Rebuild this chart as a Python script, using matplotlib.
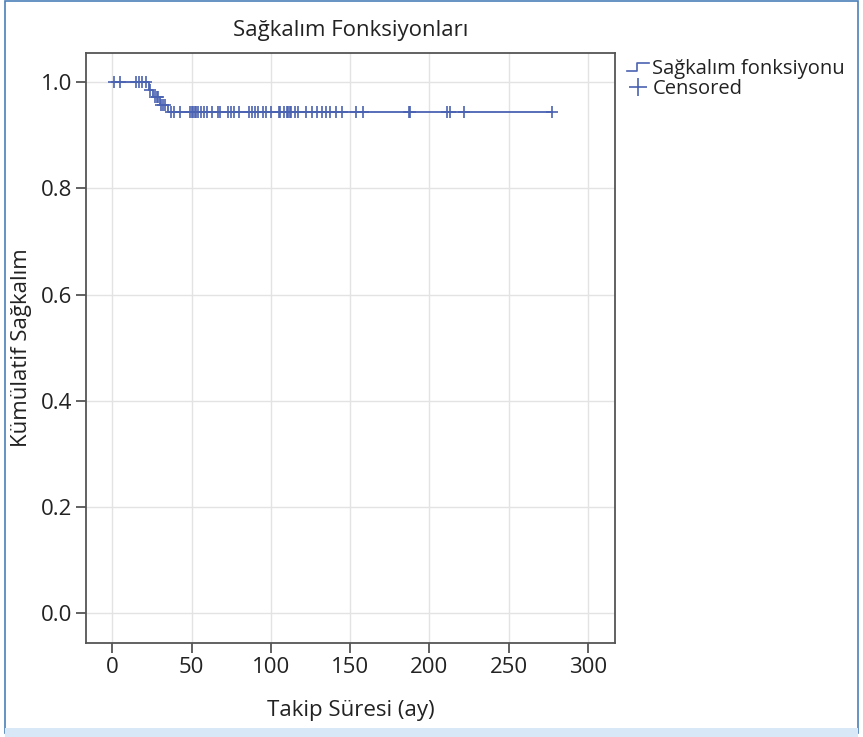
import matplotlib
matplotlib.use("Agg")
import matplotlib.pyplot as plt
from matplotlib.lines import Line2D
from matplotlib.patches import Rectangle
from matplotlib.legend_handler import HandlerBase
import numpy as np

plt.rcParams['font.family'] = ['Open Sans', 'DejaVu Sans']

# survival step function (time in months, cumulative survival)
step_t = [0, 23, 26, 30, 35, 277]
step_s = [1.0, 0.986, 0.972, 0.958, 0.944, 0.944]

# censored observations
censor_t = [1, 5, 15, 17, 19, 21, 24, 27, 28, 29, 31, 32, 33,
            37, 39, 43, 49, 50, 51, 52, 53, 54, 56, 58, 60, 63, 67, 68,
            73, 75, 77, 80, 86, 88, 90, 92, 95, 97, 100, 105, 106, 108,
            110, 111, 112, 113, 115, 117, 122, 126, 129, 132, 135, 137,
            141, 145, 154, 158, 187, 188, 211, 213, 222, 277]

title = "Sağkalım Fonksiyonları"
xlabel = "Takip Süresi (ay)"
ylabel = "Kümülatif Sağkalım"
legend_labels = ["Sağkalım fonksiyonu", "Censored"]

color = "#4a62b2"


class StepHandler(HandlerBase):
    def create_artists(self, legend, orig_handle, xdescent, ydescent,
                       width, height, fontsize, trans):
        xs = [0, width * 0.45, width * 0.45, width]
        ys = [height * 0.2, height * 0.2, height * 0.8, height * 0.8]
        ln = Line2D(xs, ys, color=color, lw=1.2, transform=trans)
        return [ln]


def censor_y(t):
    idx = np.searchsorted(step_t, t, side="right") - 1
    return step_s[idx]


fig = plt.figure(figsize=(8.63, 7.37), dpi=100)
ax = fig.add_axes([0.0997, 0.1275, 0.613, 0.8005])

ax.step(step_t, step_s, where="post", color=color, lw=1.3, zorder=3)
cy = [censor_y(t) for t in censor_t]
ax.plot(censor_t, cy, linestyle="none", marker="+", markersize=8,
        markeredgewidth=1.2, color=color, zorder=4)

ax.set_xlim(-16.5, 317)
ax.set_ylim(-0.056, 1.055)
ax.set_xticks([0, 50, 100, 150, 200, 250, 300])
ax.set_yticks([0.0, 0.2, 0.4, 0.6, 0.8, 1.0])
ax.yaxis.set_major_formatter(matplotlib.ticker.FormatStrFormatter("%.1f"))
ax.grid(True, color="#e3e3e3", lw=1)
ax.set_axisbelow(True)
for s in ax.spines.values():
    s.set_color("#555555")
    s.set_linewidth(1.3)
ax.tick_params(length=7, width=1.3, color="#555555", labelsize=16,
               labelcolor="#222222", pad=3)

ax.set_title(title, fontsize=16, color="#222222", pad=12)
ax.set_xlabel(xlabel, fontsize=16, color="#222222", labelpad=16)
ax.set_ylabel(ylabel, fontsize=16, color="#222222", labelpad=6)

handles = [Line2D([], [], color=color),
           Line2D([], [], linestyle="none", marker="+", markersize=13,
                  markeredgewidth=1.2, color=color)]
leg = ax.legend(handles, legend_labels, loc="upper left",
                bbox_to_anchor=(1.0, 1.01), frameon=False, fontsize=14.5,
                handlelength=1.1, handletextpad=0.15, labelspacing=0.0,
                borderaxespad=0.2, handler_map={handles[0]: StepHandler()})
for t in leg.get_texts():
    t.set_color("#222222")

# figure frame
fig.patches.append(Rectangle((0.006, 0.006), 0.988, 0.992, transform=fig.transFigure,
                             fill=False, edgecolor="#4a80b8", lw=1.2))
fig.patches.append(Rectangle((0.006, 0.0), 0.988, 0.012, transform=fig.transFigure,
                             facecolor="#d8e8f6", edgecolor="none"))

fig.savefig("out.png", dpi=100)
